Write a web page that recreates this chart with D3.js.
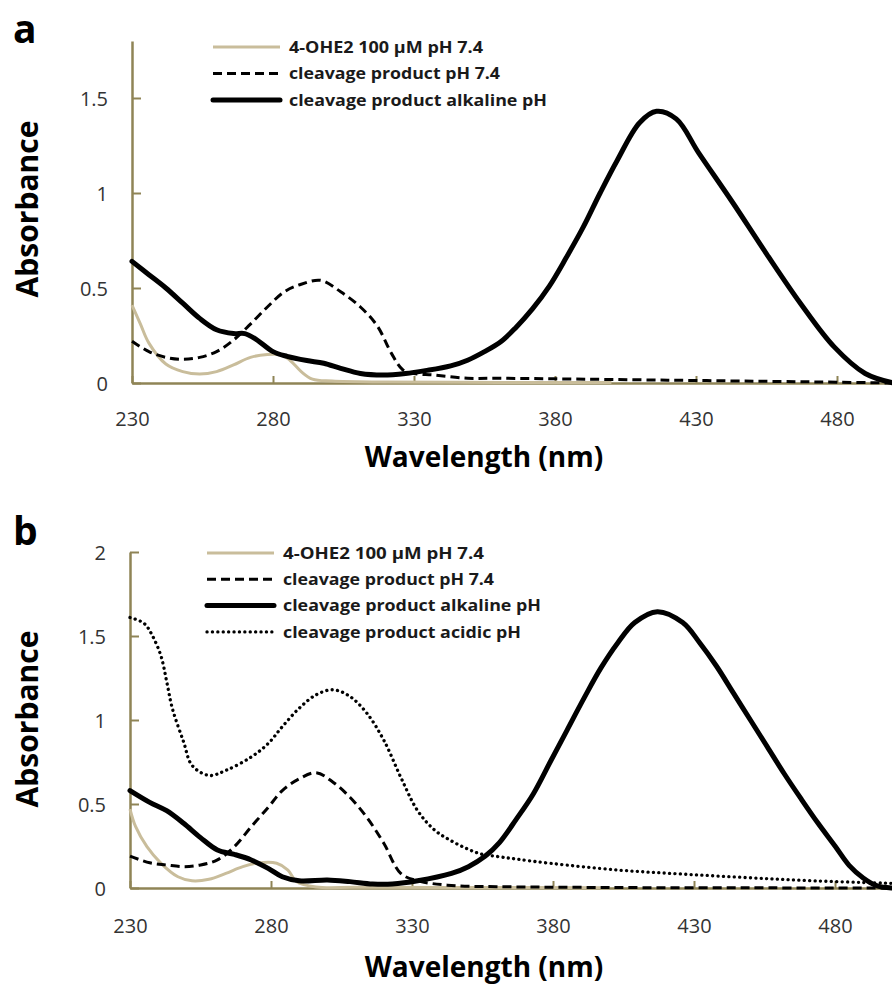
<!DOCTYPE html>
<html lang="en">
  <head>
    <meta charset="utf-8">
    <title>Absorbance spectra</title>
    <script src="https://d3js.org/d3.v7.min.js"></script>
    <style>
      body { margin: 0; background: #fff; }
      svg text { font-family: "Open Sans", "DejaVu Sans", sans-serif; }
    </style>
  </head>

  <body>

  <script>

// data (wavelength nm, absorbance)

  var legendA = ["4-OHE2 100 \u00b5M pH 7.4", "cleavage product pH 7.4", "cleavage product alkaline pH"];
  var legendB = ["4-OHE2 100 \u00b5M pH 7.4", "cleavage product pH 7.4", "cleavage product alkaline pH", "cleavage product acidic pH"];

  var xTicks = [230, 280, 330, 380, 430, 480];
  var yTicksA = [0, 0.5, 1, 1.5];
  var yTicksB = [0, 0.5, 1, 1.5, 2];

  // panel a
  var a_ohe_nm  = [230, 233, 236, 242, 248, 254, 260, 266, 272, 278, 283, 286, 290, 294, 301, 320, 360, 400];
  var a_ohe_abs = [0.41, 0.31, 0.21, 0.10, 0.06, 0.047, 0.06, 0.095, 0.135, 0.15, 0.147, 0.12, 0.06, 0.02, 0.01, 0.005, 0.003, 0.002];

  var a_neu_nm  = [230, 236, 242, 248, 254, 260, 266, 272, 278, 284, 290, 297, 304, 311, 317, 322, 326, 330, 337, 349, 360, 380, 420, 460, 480, 500];
  var a_neu_abs = [0.22, 0.165, 0.135, 0.125, 0.135, 0.165, 0.226, 0.31, 0.40, 0.48, 0.52, 0.54, 0.48, 0.40, 0.30, 0.156, 0.07, 0.05, 0.042, 0.025, 0.025, 0.022, 0.015, 0.008, 0.004, 0];

  var a_alk_nm  = [230, 236, 242, 248, 254, 260, 266, 270, 274, 280, 285, 292, 298, 304, 311, 319, 327, 334, 343, 349, 355, 361, 366, 372, 378, 384, 390, 396, 402, 410, 416, 423, 431, 443, 455, 467, 479, 490, 500];
  var a_alk_abs = [0.64, 0.57, 0.50, 0.42, 0.34, 0.28, 0.26, 0.26, 0.23, 0.165, 0.14, 0.118, 0.104, 0.077, 0.05, 0.042, 0.05, 0.065, 0.09, 0.12, 0.165, 0.22, 0.29, 0.39, 0.51, 0.66, 0.82, 1.0, 1.17, 1.37, 1.43, 1.39, 1.21, 0.95, 0.68, 0.42, 0.19, 0.05, 0];

  // panel b
  var b_ohe_nm  = [230, 232, 236, 241, 247, 252, 258, 264, 270, 276, 282, 286, 289, 296, 310, 350, 400];
  var b_ohe_abs = [0.47, 0.365, 0.246, 0.147, 0.067, 0.043, 0.052, 0.087, 0.127, 0.15, 0.147, 0.107, 0.038, 0.006, 0.004, 0.003, 0.002];

  var b_neu_nm  = [230, 237, 243, 249, 255, 261, 267, 273, 279, 284, 290, 296, 302, 308, 314, 320, 326, 332, 344, 360, 400, 450, 500];
  var b_neu_abs = [0.19, 0.15, 0.137, 0.127, 0.137, 0.167, 0.246, 0.365, 0.48, 0.58, 0.65, 0.686, 0.63, 0.54, 0.42, 0.266, 0.087, 0.043, 0.015, 0.008, 0.003, 0.001, 0];

  var b_alk_nm  = [230, 237, 243, 249, 255, 261, 267, 273, 279, 284, 290, 300, 308, 316, 323, 332, 344, 350, 356, 361, 367, 373, 379, 385, 391, 397, 403, 409, 417, 426, 432, 438, 444, 450, 456, 462, 468, 474, 480, 485, 490, 495, 500];
  var b_alk_abs = [0.58, 0.51, 0.46, 0.385, 0.30, 0.226, 0.20, 0.167, 0.117, 0.067, 0.043, 0.048, 0.038, 0.024, 0.024, 0.043, 0.087, 0.127, 0.19, 0.27, 0.41, 0.56, 0.75, 0.94, 1.13, 1.31, 1.46, 1.58, 1.645, 1.58, 1.46, 1.32, 1.16, 1.0, 0.84, 0.68, 0.53, 0.385, 0.25, 0.135, 0.06, 0.012, 0];

  var b_acd_nm  = [230, 235, 238, 241, 243, 245, 249, 252, 258, 264, 273, 279, 284, 290, 296, 302, 308, 314, 320, 326, 332, 338, 344, 350, 355, 361, 367, 379, 403, 426, 450, 474, 500];
  var b_acd_abs = [1.61, 1.575, 1.50, 1.38, 1.23, 1.07, 0.87, 0.73, 0.67, 0.70, 0.78, 0.86, 0.96, 1.07, 1.15, 1.18, 1.14, 1.04, 0.88, 0.66, 0.46, 0.345, 0.28, 0.23, 0.20, 0.186, 0.172, 0.147, 0.107, 0.083, 0.061, 0.042, 0.028];

  var axisColor = "#8f8456";
  var tanColor = "#c9bd9b";

  var styles = {
    ohe: { stroke: tanColor, width: 3, dash: null, cap: "butt" },
    neu: { stroke: "#000", width: 3, dash: "9 5", cap: "butt" },
    alk: { stroke: "#000", width: 5, dash: null, cap: "round" },
    acd: { stroke: "#000", width: 3.3, dash: "0.1 5.3", cap: "round" }
  };

  var W = 892, H = 988;

  var svg = d3.select("body")
    .append("svg")
      .attr("width", W)
      .attr("height", H);

  function zip(nm, ab) {
    return nm.map((d, i) => ({ x: d, y: ab[i] }));
  }

  function panel(opt) {
    var x = d3.scaleLinear().domain([230, 500]).range([opt.left, opt.left + 270 * 2.82]);
    var y = d3.scaleLinear().domain([0, opt.ymax]).range([opt.bottom, opt.top]);

    var g = svg.append("g");

    // x axis
    var xa = g.append("g")
      .attr("transform", "translate(0," + opt.bottom + ")")
      .call(d3.axisBottom(x).tickValues(xTicks).tickSizeInner(-7).tickSizeOuter(0).tickFormat(d3.format("d")));
    xa.select(".domain").attr("stroke", axisColor).attr("stroke-width", 2.5);
    xa.selectAll(".tick line").attr("stroke", axisColor).attr("stroke-width", 2);
    xa.selectAll(".tick text")
      .attr("y", opt.xLabelDy).attr("dy", 0)
      .attr("fill", "#333").style("font-size", "20px");

    // y axis
    var ya = g.append("g")
      .attr("transform", "translate(" + opt.left + ",0)")
      .call(d3.axisLeft(y).tickValues(opt.yTicks).tickSizeInner(-9).tickSizeOuter(0).tickFormat(d3.format("~g")));
    ya.select(".domain").attr("stroke", axisColor).attr("stroke-width", 2.5);
    ya.selectAll(".tick line").attr("stroke", axisColor).attr("stroke-width", 2);
    ya.selectAll(".tick text")
      .attr("x", -24).attr("dy", "0.35em")
      .attr("fill", "#333").style("font-size", "20px");

    var line = d3.line()
      .x(d => x(d.x))
      .y(d => y(Math.max(d.y, 0)))
      .curve(d3.curveCatmullRom.alpha(0.5));

    opt.series.forEach(function (s) {
      var st = styles[s.key];
      g.append("path")
        .datum(zip(s.nm, s.abs))
        .attr("d", line)
        .attr("fill", "none")
        .attr("stroke", st.stroke)
        .attr("stroke-width", st.width)
        .attr("stroke-dasharray", st.dash)
        .attr("stroke-linecap", st.cap)
        .attr("stroke-linejoin", "round");
    });

    // legend
    opt.legend.forEach(function (label, i) {
      var st = styles[opt.series[i].key];
      var ly = opt.legendY + i * opt.legendStep;
      g.append("line")
        .attr("x1", opt.legendX).attr("x2", opt.legendX + 67)
        .attr("y1", ly).attr("y2", ly)
        .attr("stroke", st.stroke)
        .attr("stroke-width", st.key === "alk" ? 6 : st.width)
        .attr("stroke-dasharray", st.dash)
        .attr("stroke-linecap", st.cap);
      g.append("text")
        .attr("x", opt.legendX + 76)
        .attr("y", ly)
        .attr("dy", "0.35em")
        .attr("fill", "#1a1a1a")
        .style("font-size", "16.5px")
        .style("font-weight", 700)
        .attr("textLength", opt.legendWidths[i])
        .attr("lengthAdjust", "spacingAndGlyphs")
        .text(label);
    });

    // titles
    g.append("text")
      .attr("x", 13).attr("y", opt.letterY)
      .style("font-size", "39px").style("font-weight", 700)
      .text(opt.letter);

    g.append("text")
      .attr("transform", "translate(38," + opt.yTitleY + ") rotate(-90)")
      .attr("text-anchor", "middle")
      .style("font-size", "30px").style("font-weight", 700)
      .text("Absorbance");

    g.append("text")
      .attr("x", 484).attr("y", opt.xTitleY)
      .attr("text-anchor", "middle")
      .style("font-size", "28px").style("font-weight", 700)
      .text("Wavelength (nm)");
  }

  panel({
    left: 132, top: 41, bottom: 383, ymax: 1.8, yTicks: yTicksA,
    xLabelDy: 43,
    letter: "a", letterY: 43, yTitleY: 209, xTitleY: 467,
    legend: legendA, legendX: 213, legendY: 47, legendStep: 26.5,
    legendWidths: [194, 211, 258],
    series: [
      { key: "ohe", nm: a_ohe_nm, abs: a_ohe_abs },
      { key: "neu", nm: a_neu_nm, abs: a_neu_abs },
      { key: "alk", nm: a_alk_nm, abs: a_alk_abs }
    ]
  });

  panel({
    left: 130, top: 552, bottom: 888, ymax: 2, yTicks: yTicksB,
    xLabelDy: 45,
    letter: "b", letterY: 545, yTitleY: 719, xTitleY: 977,
    legend: legendB, legendX: 207, legendY: 553, legendStep: 26.3,
    legendWidths: [201, 211, 258, 238],
    series: [
      { key: "ohe", nm: b_ohe_nm, abs: b_ohe_abs },
      { key: "neu", nm: b_neu_nm, abs: b_neu_abs },
      { key: "alk", nm: b_alk_nm, abs: b_alk_abs },
      { key: "acd", nm: b_acd_nm, abs: b_acd_abs }
    ]
  });

  </script>

  </body>

</html>
